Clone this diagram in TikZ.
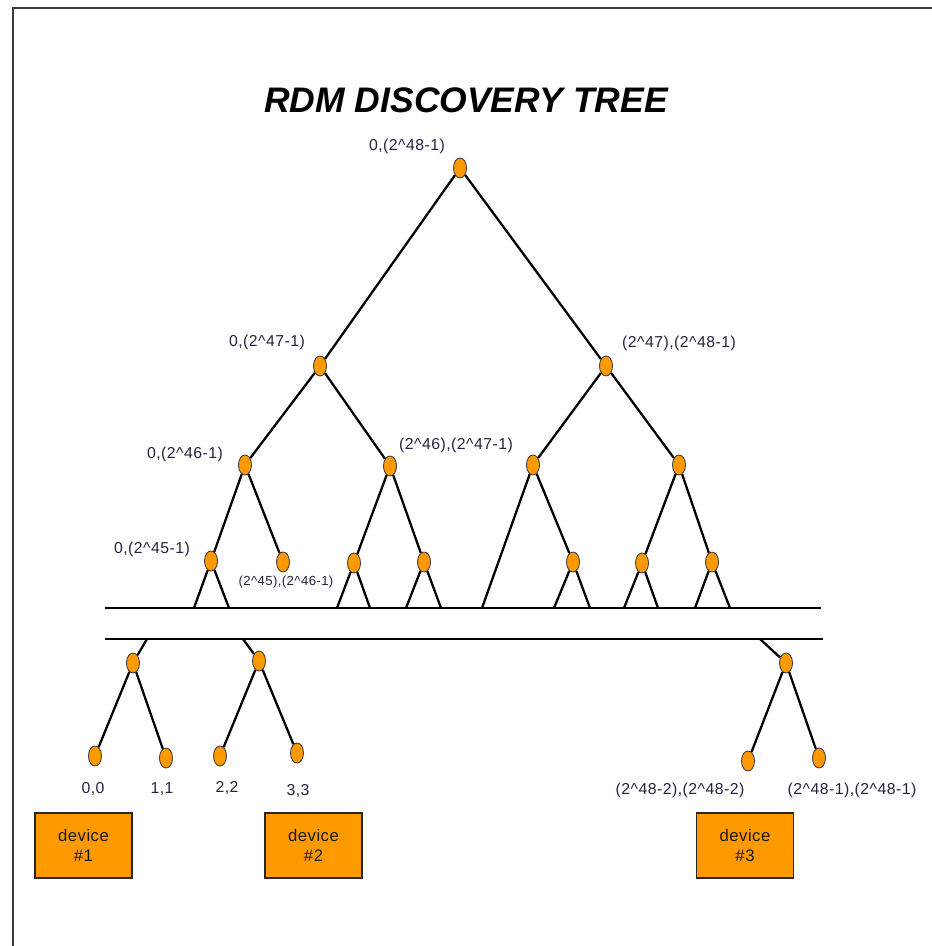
\documentclass[tikz,border=0pt]{standalone}
\usepackage{fontspec}
\setmainfont{Liberation Sans}
\newfontfamily\lblfont[LetterSpace=3]{Liberation Sans}
\usetikzlibrary{shapes.geometric}
\definecolor{orng}{RGB}{255,153,0}
\definecolor{lbltxt}{RGB}{35,35,65}
\definecolor{framec}{RGB}{60,60,60}
\tikzset{
  vert/.style={ellipse,fill=orng,draw=black!75,line width=0.5pt,minimum width=0.26cm,minimum height=0.40cm,inner sep=0pt},
  edge/.style={line width=1.3pt,black},
  bar/.style={line width=1.5pt,black},
  lbl/.style={font=\lblfont\fontsize{9}{10}\selectfont,text=lbltxt,inner sep=0pt},
  slbl/.style={font=\lblfont\fontsize{7.5}{9}\selectfont,text=lbltxt,inner sep=0pt},
  devbox/.style={draw=black!85,fill=orng,line width=0.8pt,minimum width=1.94cm,minimum height=1.3cm,align=center,font=\lblfont\fontsize{9.5}{11}\selectfont,text=black!90,inner sep=0pt}
}
\begin{document}
\begin{tikzpicture}[x=0.02cm,y=-0.02cm]
\useasboundingbox (0,0) rectangle (932,946);
% frame
\draw[framec,line width=1.2pt] (13,946) -- (13,8) -- (932,8);
% title
\node (title) at (466,100) {\fontsize{20.2}{22}\selectfont\bfseries\itshape RDM DISCOVERY TREE};
% tree nodes
\node[vert] (r) at (460,168) {};
\node[vert] (a) at (320,366) {};
\node[vert] (b) at (606,366) {};
\node[vert] (aa) at (245,465) {};
\node[vert] (ab) at (390,466) {};
\node[vert] (ba) at (533,465) {};
\node[vert] (bb) at (679,465) {};
\node[vert] (aaa) at (211,561) {};
\node[vert] (aab) at (283,562) {};
\node[vert] (aba) at (354,563) {};
\node[vert] (abb) at (424,562) {};
\node[vert] (bab) at (573,562) {};
\node[vert] (bba) at (642,563) {};
\node[vert] (bbb) at (712,562) {};
% labels
\node[lbl] (lr) at (407,146) {0,(2\^{}48-1)};
\node[lbl] (la) at (267,342) {0,(2\^{}47-1)};
\node[lbl] (lb) at (679,343) {(2\^{}47),(2\^{}48-1)};
\node[lbl] (laa) at (185,454) {0,(2\^{}46-1)};
\node[lbl] (lab) at (456,445) {(2\^{}46),(2\^{}47-1)};
\node[lbl] (laaa) at (152,549) {0,(2\^{}45-1)};
\node[slbl] (laab) at (286,582) {(2\^{}45),(2\^{}46-1)};
% bars
\coordinate (bar1l) at (105,608);
\coordinate (bar1r) at (821,608);
\coordinate (bar2l) at (105,639);
\coordinate (bar2r) at (823,639);
\draw[bar] (bar1l) -- (bar1r);
\draw[bar] (bar2l) -- (bar2r);
% edge ends on bar 1
\coordinate (e1) at (194,608);
\coordinate (e2) at (229,608);
\coordinate (e3) at (337,608);
\coordinate (e4) at (370,608);
\coordinate (e5) at (406,608);
\coordinate (e6) at (441,608);
\coordinate (e7) at (482,608);
\coordinate (e8) at (554,608);
\coordinate (e9) at (590,608);
\coordinate (e10) at (624,608);
\coordinate (e11) at (658,608);
\coordinate (e12) at (695,608);
\coordinate (e13) at (730,608);
% upper tree edges
\draw[edge] (r) -- (a);
\draw[edge] (r) -- (b);
\draw[edge] (a) -- (aa);
\draw[edge] (a) -- (ab);
\draw[edge] (b) -- (ba);
\draw[edge] (b) -- (bb);
\draw[edge] (aa) -- (aaa);
\draw[edge] (aa) -- (aab);
\draw[edge] (ab) -- (aba);
\draw[edge] (ab) -- (abb);
\draw[edge] (ba) -- (e7);
\draw[edge] (ba) -- (bab);
\draw[edge] (bb) -- (bba);
\draw[edge] (bb) -- (bbb);
\draw[edge] (aaa) -- (e1);
\draw[edge] (aaa) -- (e2);
\draw[edge] (aba) -- (e3);
\draw[edge] (aba) -- (e4);
\draw[edge] (abb) -- (e5);
\draw[edge] (abb) -- (e6);
\draw[edge] (bab) -- (e8);
\draw[edge] (bab) -- (e9);
\draw[edge] (bba) -- (e10);
\draw[edge] (bba) -- (e11);
\draw[edge] (bbb) -- (e12);
\draw[edge] (bbb) -- (e13);
% lower tree
\coordinate (s1) at (147,639);
\coordinate (s2) at (243,639);
\coordinate (s3) at (760,639);
\node[vert] (p1) at (133,663) {};
\node[vert] (p2) at (259,661) {};
\node[vert] (p3) at (786,663) {};
\node[vert] (q0) at (95,756) {};
\node[vert] (q1) at (166,758) {};
\node[vert] (q2) at (220,756) {};
\node[vert] (q3) at (297,753) {};
\node[vert] (q4) at (748,761) {};
\node[vert] (q5) at (819,758) {};
\draw[edge] (s1) -- (p1);
\draw[edge] (s2) -- (p2);
\draw[edge] (s3) -- (p3);
\draw[edge] (p1) -- (q0);
\draw[edge] (p1) -- (q1);
\draw[edge] (p2) -- (q2);
\draw[edge] (p2) -- (q3);
\draw[edge] (p3) -- (q4);
\draw[edge] (p3) -- (q5);
% leaf labels
\node[lbl] (l0) at (93,789) {0,0};
\node[lbl] (l1) at (162,789) {1,1};
\node[lbl] (l2) at (227,788) {2,2};
\node[lbl] (l3) at (298,791) {3,3};
\node[lbl] (l4) at (680,790) {(2\^{}48-2),(2\^{}48-2)};
\node[lbl] (l5) at (852,790) {(2\^{}48-1),(2\^{}48-1)};
% devices
\node[devbox] (d1) at (83.5,845.5) {device\\\#1};
\node[devbox] (d2) at (313.5,845.5) {device\\\#2};
\node[devbox] (d3) at (745,845.5) {device\\\#3};
\end{tikzpicture}
\end{document}
